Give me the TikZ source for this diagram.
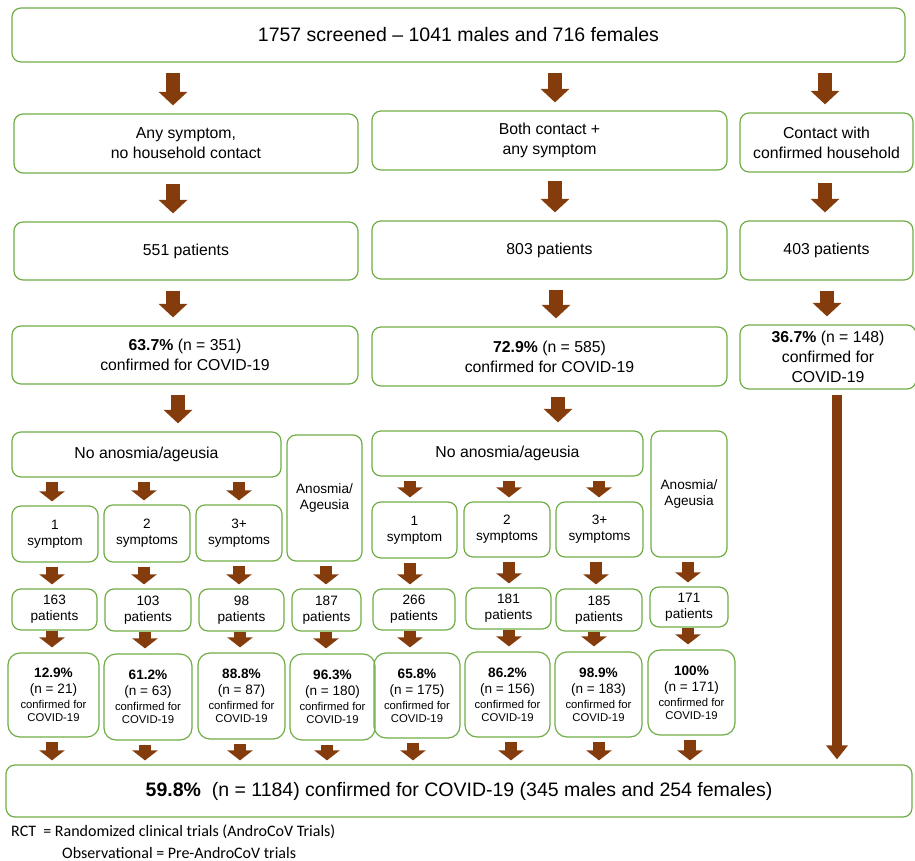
\documentclass[tikz,border=0pt]{standalone}
\usepackage{fontspec}
\setmainfont{Liberation Sans}
\newfontfamily\notefont{Carlito}
\usetikzlibrary{arrows.meta}
\definecolor{leaf_green}{RGB}{112, 173, 71}
\definecolor{rust_brown}{RGB}{132, 60, 12}
\def \Hd {\fontsize{19.5}{23}\selectfont}
\def \Md {\fontsize{15.8}{20}\selectfont}
\def \Sm {\fontsize{13.6}{16}\selectfont}
\def \Xs {\fontsize{11.3}{13}\selectfont}

\begin{document}
\begin{tikzpicture}[
    x=1pt, y=-1pt,
    cell/.style={
        rectangle,
        draw=leaf_green,
        line width=1.2pt,
        rounded corners=9pt,
        align=center,
        inner sep=0pt,
        font=\Md
    },
    dims/.style 2 args={
        minimum width=#1,
        minimum height=#2
    },
    bigflow/.style={
        draw=rust_brown,
        line width=14pt,
        -{Triangle[width=28pt, length=13.5pt]},
        shorten <=10pt,
        shorten >=8pt
    },
    smallflow/.style={
        draw=rust_brown,
        line width=12pt,
        -{Triangle[width=25pt, length=10pt]},
        shorten <=4pt,
        shorten >=4pt
    },
    longflow/.style={
        draw=rust_brown,
        line width=10.5pt,
        -{Triangle[width=21pt, length=14pt]},
        shorten <=5pt,
        shorten >=5pt
    }
]
\useasboundingbox (0,0) rectangle (915,861);

% top
\node[cell, font=\Hd, dims={893pt}{54pt}] (screened) at (458.5,35) {1757 screened -- 1041 males and 716 females};

% groups
\node[cell, dims={344pt}{59pt}] (anysym) at (186,143.5) {Any symptom,\\no household contact};
\node[cell, dims={355pt}{59pt}] (both) at (549.5,140.5) {Both contact +\\any symptom};
\node[cell, dims={173pt}{59pt}] (household) at (826.5,142.5) {Contact with\\confirmed household};

\node[cell, dims={344pt}{58pt}] (patA) at (186,251) {551 patients};
\node[cell, dims={355pt}{58pt}] (patB) at (549.5,250) {803 patients};
\node[cell, dims={173pt}{59pt}] (patC) at (826.5,250.5) {403 patients};

\node[cell, dims={346pt}{58pt}] (confA) at (185,355) {\textbf{63.7\%} (n = 351)\\confirmed for COVID-19};
\node[cell, dims={355pt}{59pt}] (confB) at (549.5,356.5) {\textbf{72.9\%} (n = 585)\\confirmed for COVID-19};
\node[cell, dims={176pt}{64pt}] (confC) at (828,357) {\textbf{36.7\%} (n = 148)\\confirmed for\\COVID-19};

% anosmia split
\node[cell, dims={269pt}{45pt}] (noanoA) at (146.5,454.5) {No anosmia/ageusia};
\node[cell, font=\Sm, dims={75pt}{126pt}] (anoA) at (324.5,498) {Anosmia/\\Ageusia};
\node[cell, dims={271pt}{45pt}] (noanoB) at (507.5,453.5) {No anosmia/ageusia};
\node[cell, font=\Sm, dims={76pt}{126pt}] (anoB) at (689,494) {Anosmia/\\Ageusia};

% symptom counts
\node[cell, font=\Sm, dims={86pt}{56pt}] (symA1) at (55,534) {1\\symptom};
\node[cell, font=\Sm, dims={86pt}{57pt}] (symA2) at (147,533.5) {2\\symptoms};
\node[cell, font=\Sm, dims={86pt}{56pt}] (symA3) at (239,533) {3+\\symptoms};
\node[cell, font=\Sm, dims={85pt}{56pt}] (symB1) at (414.5,530) {1\\symptom};
\node[cell, font=\Sm, dims={86pt}{55pt}] (symB2) at (507,529.5) {2\\symptoms};
\node[cell, font=\Sm, dims={87pt}{55pt}] (symB3) at (599.5,529.5) {3+\\symptoms};

% patients
\node[cell, font=\Sm, dims={85pt}{41pt}] (numA1) at (54.5,609.5) {163\\patients};
\node[cell, font=\Sm, dims={86pt}{42pt}] (numA2) at (148,610) {103\\patients};
\node[cell, font=\Sm, dims={85pt}{42pt}] (numA3) at (241.5,610) {98\\patients};
\node[cell, font=\Sm, dims={69pt}{42pt}] (numA4) at (326.5,610) {187\\patients};
\node[cell, font=\Sm, dims={82pt}{41pt}] (numB1) at (414,609.5) {266\\patients};
\node[cell, font=\Sm, dims={85pt}{41pt}] (numB2) at (508.5,608.5) {181\\patients};
\node[cell, font=\Sm, dims={86pt}{42pt}] (numB3) at (599,610) {185\\patients};
\node[cell, font=\Sm, dims={78pt}{40pt}] (numB4) at (689,607) {171\\patients};

% confirmed per subgroup
\node[cell, font=\Sm, rounded corners=12pt, dims={91pt}{84pt}] (resA1) at (53.5,695) {\textbf{12.9\%}\\(n = 21)\\[-1pt]{\Xs confirmed for}\\[-3pt]{\Xs COVID-19}};
\node[cell, font=\Sm, rounded corners=12pt, dims={88pt}{86pt}] (resA2) at (148,697) {\textbf{61.2\%}\\(n = 63)\\[-1pt]{\Xs confirmed for}\\[-3pt]{\Xs COVID-19}};
\node[cell, font=\Sm, rounded corners=12pt, dims={87pt}{86pt}] (resA3) at (241.5,696) {\textbf{88.8\%}\\(n = 87)\\[-1pt]{\Xs confirmed for}\\[-3pt]{\Xs COVID-19}};
\node[cell, font=\Sm, rounded corners=12pt, dims={85pt}{86pt}] (resA4) at (332.5,697) {\textbf{96.3\%}\\(n = 180)\\[-1pt]{\Xs confirmed for}\\[-3pt]{\Xs COVID-19}};
\node[cell, font=\Sm, rounded corners=12pt, dims={86pt}{85pt}] (resB1) at (417,695.5) {\textbf{65.8\%}\\(n = 175)\\[-1pt]{\Xs confirmed for}\\[-3pt]{\Xs COVID-19}};
\node[cell, font=\Sm, rounded corners=12pt, dims={85pt}{85pt}] (resB2) at (507.5,694.5) {\textbf{86.2\%}\\(n = 156)\\[-1pt]{\Xs confirmed for}\\[-3pt]{\Xs COVID-19}};
\node[cell, font=\Sm, rounded corners=12pt, dims={87pt}{85pt}] (resB3) at (598.5,694.5) {\textbf{98.9\%}\\(n = 183)\\[-1pt]{\Xs confirmed for}\\[-3pt]{\Xs COVID-19}};
\node[cell, font=\Sm, rounded corners=12pt, dims={87pt}{85pt}] (resB4) at (691.5,692.5) {\textbf{100\%}\\(n = 171)\\[-1pt]{\Xs confirmed for}\\[-3pt]{\Xs COVID-19}};

% total
\node[cell, font=\Hd, dims={906pt}{52pt}] (total) at (459,791) {\textbf{59.8\%}~ (n = 1184) confirmed for COVID-19 (345 males and 254 females)};

% legend
\node[anchor=west, font=\notefont\fontsize{16}{19}\selectfont, inner sep=0pt] (rct) at (11,832) {RCT~~= Randomized clinical trials (AndroCoV Trials)};
\node[anchor=west, font=\notefont\fontsize{16}{19}\selectfont, inner sep=0pt] (obs) at (62,853) {Observational = Pre-AndroCoV trials};

% arrows
\foreach \from/\to/\xx in {screened/anysym/173, screened/both/555, screened/household/825,
    anysym/patA/173, both/patB/555, household/patC/825,
    patA/confA/173, patB/confB/556, patC/confC/827,
    confA/noanoA/178, confB/noanoB/558}
    \draw[bigflow] (\from.south -| \xx,0) -- (\to.north -| \xx,0);

\foreach \from/\to/\xx in {noanoA/symA1/52, noanoA/symA2/144, noanoA/symA3/239,
    noanoB/symB1/410, noanoB/symB2/509, noanoB/symB3/599,
    symA1/numA1/52, symA2/numA2/144, symA3/numA3/239, anoA/numA4/326,
    symB1/numB1/410, symB2/numB2/509, symB3/numB3/596, anoB/numB4/688,
    resA1/total/52, resA2/total/145, resA3/total/240, resA4/total/327,
    resB1/total/413, resB2/total/511, resB3/total/599, resB4/total/690}
    \draw[smallflow] (\from.south -| \xx,0) -- (\to.north -| \xx,0);

\foreach \from/\to/\xx in {numA1/resA1/52, numA2/resA2/145, numA3/resA3/240, numA4/resA4/326,
    numB1/resB1/410, numB2/resB2/509, numB3/resB3/594, numB4/resB4/688}
    \draw[smallflow, shorten <=0pt, shorten >=5pt] (\from.south -| \xx,0) -- (\to.north -| \xx,0);

\draw[longflow] (confC.south -| 837,0) -- (total.north -| 837,0);

\end{tikzpicture}
\end{document}
